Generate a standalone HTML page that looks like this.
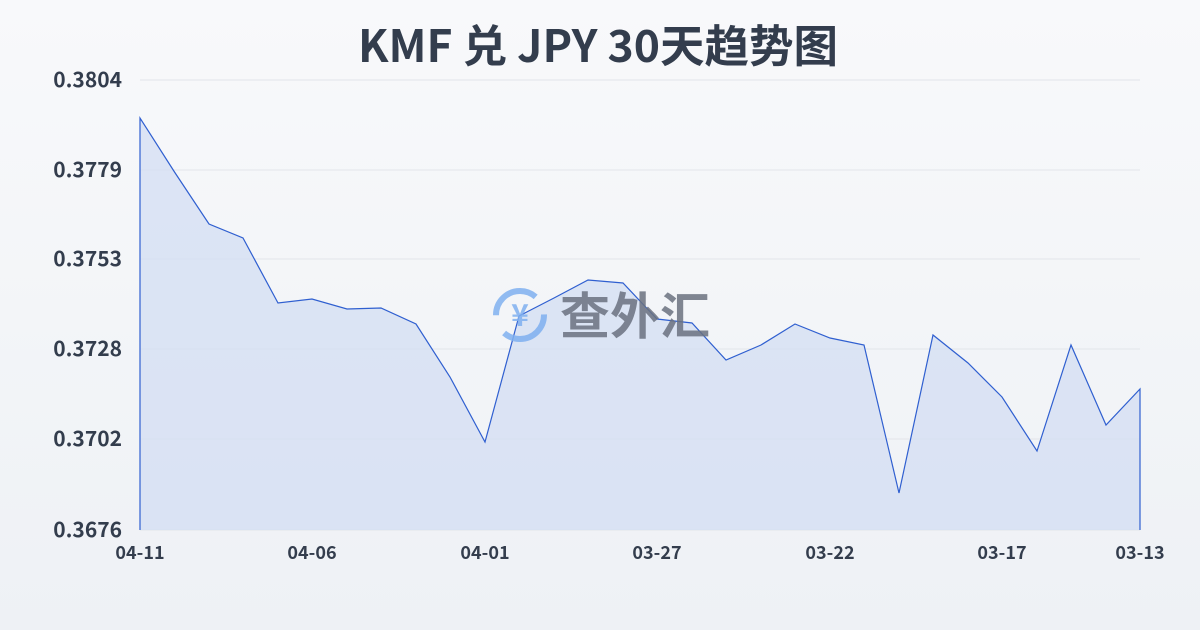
<!DOCTYPE html>
<html><head><meta charset="utf-8"><style>
body{margin:0;width:1200px;height:630px;background:linear-gradient(#f8f9fb,#eef1f5);font-family:"Noto Sans CJK SC",sans-serif;overflow:hidden}
</style></head><body>
<svg width="1200" height="630" xmlns="http://www.w3.org/2000/svg" style="position:absolute;left:0;top:0" font-family="Noto Sans CJK SC,sans-serif">
<text x="598" y="62" text-anchor="middle" font-size="44.5" font-weight="bold" fill="#333d4d">KMF 兑 JPY 30天趋势图</text>
<g stroke="#e2e5ea" stroke-width="1">
<line x1="140" y1="80" x2="1140" y2="80"/><line x1="140" y1="170" x2="1140" y2="170"/><line x1="140" y1="259" x2="1140" y2="259"/><line x1="140" y1="349" x2="1140" y2="349"/><line x1="140" y1="439" x2="1140" y2="439"/><line x1="140" y1="530" x2="1140" y2="530"/>
</g>
<g font-size="21" font-weight="bold" fill="#333d4d" text-anchor="end">
<text x="122" y="87">0.3804</text><text x="122" y="177">0.3779</text><text x="122" y="266">0.3753</text><text x="122" y="356">0.3728</text><text x="122" y="446">0.3702</text><text x="122" y="537">0.3676</text>
</g>
<g font-size="18" font-weight="bold" fill="#333d4d" text-anchor="middle">
<text x="140" y="559">04-11</text><text x="312" y="559">04-06</text><text x="485" y="559">04-01</text><text x="657" y="559">03-27</text><text x="830" y="559">03-22</text><text x="1002" y="559">03-17</text><text x="1140" y="559">03-13</text>
</g>
<polygon fill="#d3ddf3" fill-opacity="0.75" points="140,530 140,118 174.5,172 209,224 243,238 278,303 312,299 347,309 381,308 416,324 450,377 485,442 519,316 554,298 588,280 623,283 657,319 692,323 726,360 761,345 795,324 830,338 864,345 899,493 933,335 968,363 1002,397 1037,451 1071,345 1106,425 1140,389 1140,530"/>
<polyline fill="none" stroke="#2f5fd0" stroke-width="1.2" points="140,530 140,118 174.5,172 209,224 243,238 278,303 312,299 347,309 381,308 416,324 450,377 485,442 519,316 554,298 588,280 623,283 657,319 692,323 726,360 761,345 795,324 830,338 864,345 899,493 933,335 968,363 1002,397 1037,451 1071,345 1106,425 1140,389 1140,530"/>
<g opacity="0.85">
<circle cx="520" cy="315" r="24" fill="none" stroke="#7fb0f0" stroke-width="6" stroke-dasharray="55 20"/>
<text x="520" y="326" text-anchor="middle" font-size="30" font-weight="bold" fill="#7fb0f0">¥</text>
<text x="560" y="334" font-size="50" font-weight="bold" fill="#6b7280">查外汇</text>
</g>
</svg>
</body></html>
